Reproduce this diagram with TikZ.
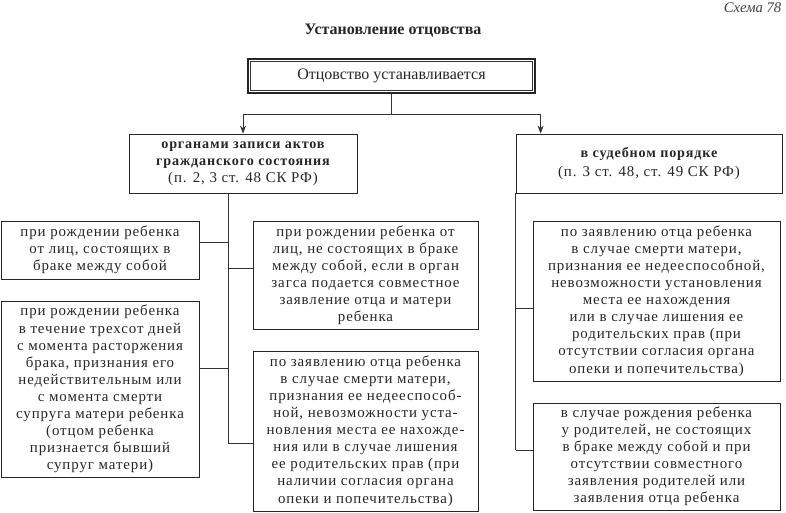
\documentclass[tikz,border=0pt]{standalone}
\usepackage{fontspec}
\setmainfont{Liberation Serif}
\newfontfamily\boxfont[LetterSpace=6]{Liberation Serif}
\usetikzlibrary{arrows.meta,calc}
\begin{document}
\begin{tikzpicture}[x=0.75pt,y=-0.75pt,
  box/.style={draw=black!85, line width=0.6pt, align=center, inner sep=1pt,
    font=\boxfont\fontsize{11.2}{12.8}\selectfont, text=black!85},
  wh/.style 2 args={minimum width=#1*0.75pt, minimum height=#2*0.75pt},
  link/.style={draw=black!80, line width=0.6pt},
  arr/.style={link, -{Stealth[length=6pt,width=4.5pt]}}]
\useasboundingbox (0,0) rectangle (786,512);
\node[font=\bfseries\fontsize{12}{14}\selectfont, text=black!85] (title) at (393,31) {Установление отцовства};
\node[font=\itshape\fontsize{11}{13}\selectfont, text=black!75, anchor=east] (scheme) at (786,8) {Схема 78};
% main box (double frame)
\node[box, wh={287}{34}, line width=1.6pt, font=\fontsize{12}{14}\selectfont] (main) at (391.5,76) {Отцовство устанавливается};
\draw[line width=0.5pt, black!80] ($(main.north west)+(2.6pt,-2.6pt)$) rectangle ($(main.south east)+(-2.6pt,2.6pt)$);
% second level
\node[box, wh={228}{59}] (org) at (243,163.5) {{\fontsize{10.6}{12.8}\selectfont\bfseries органами записи актов}\\ {\fontsize{10.6}{12.8}\selectfont\bfseries гражданского состояния}\\ (п. 2, 3 ст. 48 СК РФ)};
\node[box, wh={266}{59}] (sud) at (649,163.5) {{\fontsize{10.6}{12.8}\selectfont\bfseries в судебном порядке}\\[1pt] (п. 3 ст. 48, ст. 49 СК РФ)};
% left column
\node[box, wh={198}{58}] (l1) at (100,250) {при рождении ребенка\\ от лиц, состоящих в\\ браке между собой};
\node[box, wh={198}{176}] (l2) at (100,389) {при рождении ребенка\\ в течение трехсот дней\\ с момента расторжения\\ брака, признания его\\ недействительным или\\ с момента смерти\\ супруга матери ребенка\\ (отцом ребенка\\ признается бывший\\ супруг матери)};
% middle column
\node[box, wh={225}{108}] (m1) at (365.5,275) {при рождении ребенка от\\ лиц, не состоящих в браке\\ между собой, если в орган\\ загса подается совместное\\ заявление отца и матери\\ ребенка};
\node[box, wh={225}{160}] (m2) at (365.5,431) {по заявлению отца ребенка\\ в случае смерти матери,\\ признания ее недееспособ-\\ ной, невозможности уста-\\ новления места ее нахожде-\\ ния или в случае лишения\\ ее родительских прав (при\\ наличии согласия органа\\ опеки и попечительства)};
% right column
\node[box, wh={247}{160}] (r1) at (656.5,301) {по заявлению отца ребенка\\ в случае смерти матери,\\ признания ее недееспособной,\\ невозможности установления\\ места ее нахождения\\ или в случае лишения ее\\ родительских прав (при\\ отсутствии согласия органа\\ опеки и попечительства)};
\node[box, wh={247}{107}] (r2) at (656.5,456.5) {в случае рождения ребенка\\ у родителей, не состоящих\\ в браке между собой и при\\ отсутствии совместного\\ заявления родителей или\\ заявления отца ребенка};
% connectors from main
\draw[link] (main.south) -- ++(0,20) coordinate (hub);
\draw[arr] (hub) -| (org.north);
\draw[arr] (hub) -| ([xshift=18.75pt]sud.north west);
% attachment points
\coordinate (lt) at ([xshift=-11.25pt]org.south);
\coordinate (l1p) at ([yshift=6pt]l1.east);
\coordinate (l2p) at ([yshift=15.75pt]l2.east);
\coordinate (m1p) at ([yshift=5.25pt]m1.west);
\coordinate (m2p) at ([yshift=-9pt]m2.west);
\coordinate (rt) at (sud.south west);
\coordinate (r1p) at ([yshift=-5.25pt]r1.west);
\coordinate (r2p) at ([yshift=4.9pt]r2.west);
% left trunk
\draw[link] (lt) -- (lt |- m2p);
\draw[link] (l1p) -- (lt |- l1p);
\draw[link] (l2p) -- (lt |- l2p);
\draw[link] (m1p) -- (lt |- m1p);
\draw[link] (m2p) -- (lt |- m2p);
% right trunk
\draw[link] (rt) -- (rt |- r2p);
\draw[link] (r1p) -- (rt |- r1p);
\draw[link] (r2p) -- (rt |- r2p);
\end{tikzpicture}
\end{document}
